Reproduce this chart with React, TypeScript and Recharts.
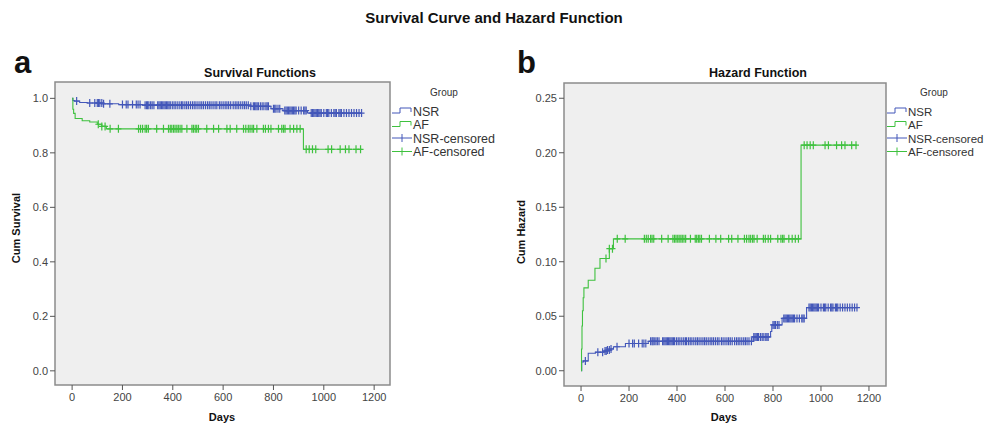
import React from 'react'
import {
  ComposedChart, Line, Scatter, XAxis, YAxis, CartesianGrid, ReferenceArea,
} from 'recharts'

const NSR_COLOR = '#4357b9'
const AF_COLOR = '#3fc13f'
const FONT = '"Liberation Sans", Arial, sans-serif'

const DAY_TICKS = [0, 200, 400, 600, 800, 1000, 1200]
const SURV_TICKS = [0, 0.2, 0.4, 0.6, 0.8, 1.0]
const HAZ_TICKS = [0, 0.05, 0.1, 0.15, 0.2, 0.25]

// survival (a)
const nsrSurvDays = [0, 3, 10, 30, 60, 125, 185, 280, 710, 790, 838, 935, 1150]
const nsrSurvVals = [1, 0.992, 0.990, 0.985, 0.983, 0.980, 0.977, 0.975, 0.971, 0.962, 0.955, 0.946, 0.946]
const afSurvDays = [0, 3, 6, 12, 40, 70, 100, 118, 136, 919, 1150]
const afSurvVals = [1, 0.96, 0.945, 0.926, 0.918, 0.913, 0.905, 0.897, 0.888, 0.813, 0.813]

// cumulative hazard (b)
const nsrHazDays = [0, 3, 10, 30, 60, 95, 110, 125, 135, 185, 280, 717, 790, 795, 838, 940, 1150]
const nsrHazVals = [0, 0.008, 0.009, 0.016, 0.017, 0.018, 0.019, 0.020, 0.022, 0.025, 0.027, 0.031, 0.036, 0.042, 0.048, 0.058, 0.058]
const afHazDays = [0, 2, 4, 6, 9, 12, 30, 58, 79, 118, 135, 917, 1150]
const afHazVals = [0, 0.02, 0.041, 0.055, 0.067, 0.076, 0.083, 0.094, 0.103, 0.112, 0.121, 0.207, 0.207]

// censored cases (days)
const nsrCensored = [
  18, 70, 90, 100, 105, 110, 118, 125, 150, 200, 215, 222, 240, 255, 262, 270, 290, 296, 300, 305,
  312, 318, 325, 340, 345, 350, 355, 360, 365, 370, 375, 380, 385, 390, 398, 405, 412, 420, 428, 435,
  440, 448, 455, 462, 470, 478, 485, 492, 500, 508, 515, 522, 530, 538, 545, 552, 560, 568, 575, 585,
  592, 600, 608, 615, 622, 630, 640, 648, 655, 662, 670, 678, 685, 692, 700, 710, 720, 725, 730, 735,
  740, 748, 755, 762, 770, 775, 780, 800, 805, 810, 818, 825, 845, 850, 855, 860, 865, 870, 875, 880,
  885, 890, 900, 910, 920, 925, 930, 950, 955, 960, 965, 970, 975, 980, 985, 990, 1000, 1010, 1015,
  1020, 1030, 1040, 1045, 1050, 1060, 1065, 1070, 1080, 1090, 1100, 1110, 1120, 1130, 1140, 1150,
]
const afCensored = [
  104, 118, 131, 151, 184, 264, 272, 280, 290, 296, 303, 336, 363, 383, 390, 396, 403, 409, 416, 422,
  429, 436, 456, 476, 482, 489, 495, 502, 535, 562, 582, 615, 628, 654, 681, 690, 700, 707, 715, 721,
  734, 760, 768, 780, 790, 820, 833, 840, 846, 866, 880, 893, 906, 930, 942, 955, 968, 1017, 1031,
  1065, 1086, 1100, 1128, 1146,
]

const toPoints = (days: number[], vals: number[]) => days.map((d, i) => ({ day: d, v: vals[i] }))

const stepAt = (days: number[], vals: number[], d: number) => {
  let v = vals[0]
  for (let i = 0; i < days.length; i++) if (days[i] <= d) v = vals[i]
  return v
}

const censorPoints = (cens: number[], days: number[], vals: number[]) =>
  cens.map(d => ({ day: d, v: stepAt(days, vals, d) }))

const plus = (color: string) => (props: any) => {
  const { cx, cy } = props
  if (cx == null || cy == null) return <g />
  return (
    <path d={`M${cx - 3},${cy}H${cx + 3}M${cx},${cy - 4}V${cy + 4}`} stroke={color} strokeWidth={1.2} fill="none" />
  )
}

const tickStyle = { fontSize: 11, fill: '#444', fontFamily: FONT }

interface PanelProps {
  left: number
  yDomain: [number, number]
  xDomain: [number, number]
  yTicks: number[]
  fmt: (v: number) => string
  margin: { top: number; right: number; left: number; bottom: number }
  yWidth: number
  nsr: [number[], number[]]
  af: [number[], number[]]
}

function Panel({ left, yDomain, xDomain, yTicks, fmt, margin, yWidth, nsr, af }: PanelProps) {
  return (
    <div style={{ position: 'absolute', left, top: 0 }}>
      <ComposedChart width={494} height={425} margin={margin}>
        <CartesianGrid fill="#efefef" horizontal={false} vertical={false} />
        <ReferenceArea
          x1={xDomain[0]} x2={xDomain[1]} y1={yDomain[0]} y2={yDomain[1]}
          fill="#efefef" fillOpacity={1} stroke="#8c8c8c" strokeWidth={1.5} ifOverflow="visible"
        />
        <XAxis
          dataKey="day" type="number" domain={xDomain} ticks={DAY_TICKS} allowDataOverflow
          axisLine={false} tickLine={{ stroke: '#555' }} tickSize={5} tickMargin={3}
          tick={tickStyle} height={30} interval={0}
        />
        <YAxis
          type="number" domain={yDomain} ticks={yTicks} allowDataOverflow width={yWidth}
          axisLine={false} tickLine={{ stroke: '#555' }} tickSize={5} tickMargin={2}
          tick={tickStyle} tickFormatter={fmt} interval={0}
        />
        <Line data={toPoints(nsr[0], nsr[1])} dataKey="v" type="stepAfter" stroke={NSR_COLOR}
          strokeWidth={1.1} dot={false} isAnimationActive={false} />
        <Line data={toPoints(af[0], af[1])} dataKey="v" type="stepAfter" stroke={AF_COLOR}
          strokeWidth={1.1} dot={false} isAnimationActive={false} />
        <Scatter data={censorPoints(nsrCensored, nsr[0], nsr[1])} dataKey="v"
          shape={plus(NSR_COLOR)} isAnimationActive={false} />
        <Scatter data={censorPoints(afCensored, af[0], af[1])} dataKey="v"
          shape={plus(AF_COLOR)} isAnimationActive={false} />
      </ComposedChart>
    </div>
  )
}

function GroupLegend({ x, size, groupX }: { x: number; size: number; groupX: number }) {
  const rows = [
    { label: 'NSR', color: NSR_COLOR, step: true },
    { label: 'AF', color: AF_COLOR, step: true },
    { label: 'NSR-censored', color: NSR_COLOR, step: false },
    { label: 'AF-censored', color: AF_COLOR, step: false },
  ]
  return (
    <svg style={{ position: 'absolute', left: x, top: 82 }} width={120} height={80}>
      <text x={groupX} y={14} fontSize={10} fill="#333" textAnchor="middle" fontFamily={FONT}>Group</text>
      {rows.map((r, i) => {
        const y = 29 + i * 13.5
        return (
          <g key={r.label}>
            {r.step ? (
              <path d={`M0,${y + 2}H8V${y - 3}H19V${y + 1}`} stroke={r.color} fill="none" strokeWidth={1} />
            ) : (
              <path d={`M0,${y}H20M10,${y - 4}V${y + 4}`} stroke={r.color} fill="none" strokeWidth={1} />
            )}
            <text x={21} y={y + 4.5} fontSize={size} fill="#333" fontFamily={FONT}>{r.label}</text>
          </g>
        )
      })}
    </svg>
  )
}

const abs = (left: number, top: number, extra: React.CSSProperties = {}): React.CSSProperties => ({
  position: 'absolute', left, top, fontFamily: FONT, color: '#111', whiteSpace: 'nowrap', ...extra,
})

export default function App() {
  return (
    <div style={{ position: 'relative', width: 988, height: 425, background: '#fff', overflow: 'hidden' }}>
      <style>{'body{margin:0}'}</style>
      <div style={abs(494, 9, { transform: 'translateX(-50%)', fontSize: 15, fontWeight: 700 })}>
        Survival Curve and Hazard Function
      </div>
      <div style={abs(14, 45, { fontSize: 31, fontWeight: 700 })}>a</div>
      <div style={abs(517, 45, { fontSize: 31, fontWeight: 700 })}>b</div>

      <Panel
        left={0}
        xDomain={[-68, 1263]}
        yDomain={[-0.052, 1.06]}
        yTicks={SURV_TICKS}
        fmt={(v) => v.toFixed(1)}
        margin={{ top: 82, right: 104, left: 15, bottom: 10 }}
        yWidth={40}
        nsr={[nsrSurvDays, nsrSurvVals]}
        af={[afSurvDays, afSurvVals]}
      />
      <Panel
        left={494}
        xDomain={[-71, 1271]}
        yDomain={[-0.014, 0.264]}
        yTicks={HAZ_TICKS}
        fmt={(v) => v.toFixed(2)}
        margin={{ top: 83, right: 102, left: 25, bottom: 9 }}
        yWidth={45}
        nsr={[nsrHazDays, nsrHazVals]}
        af={[afHazDays, afHazVals]}
      />

      <GroupLegend x={392} size={12.5} groupX={52} />
      <GroupLegend x={887} size={11.5} groupX={47} />

      <div style={abs(260, 66, { transform: 'translateX(-50%)', fontSize: 12.5, fontWeight: 700 })}>Survival Functions</div>
      <div style={abs(758, 66, { transform: 'translateX(-50%)', fontSize: 12.5, fontWeight: 700 })}>Hazard Function</div>

      <div style={abs(222, 411, { transform: 'translateX(-50%)', fontSize: 11, fontWeight: 700 })}>Days</div>
      <div style={abs(724, 411, { transform: 'translateX(-50%)', fontSize: 11, fontWeight: 700 })}>Days</div>

      <div style={abs(16, 228, { transform: 'translate(-50%, -50%) rotate(-90deg)', fontSize: 11, fontWeight: 700 })}>Cum Survival</div>
      <div style={abs(521, 232, { transform: 'translate(-50%, -50%) rotate(-90deg)', fontSize: 11, fontWeight: 700 })}>Cum Hazard</div>
    </div>
  )
}
